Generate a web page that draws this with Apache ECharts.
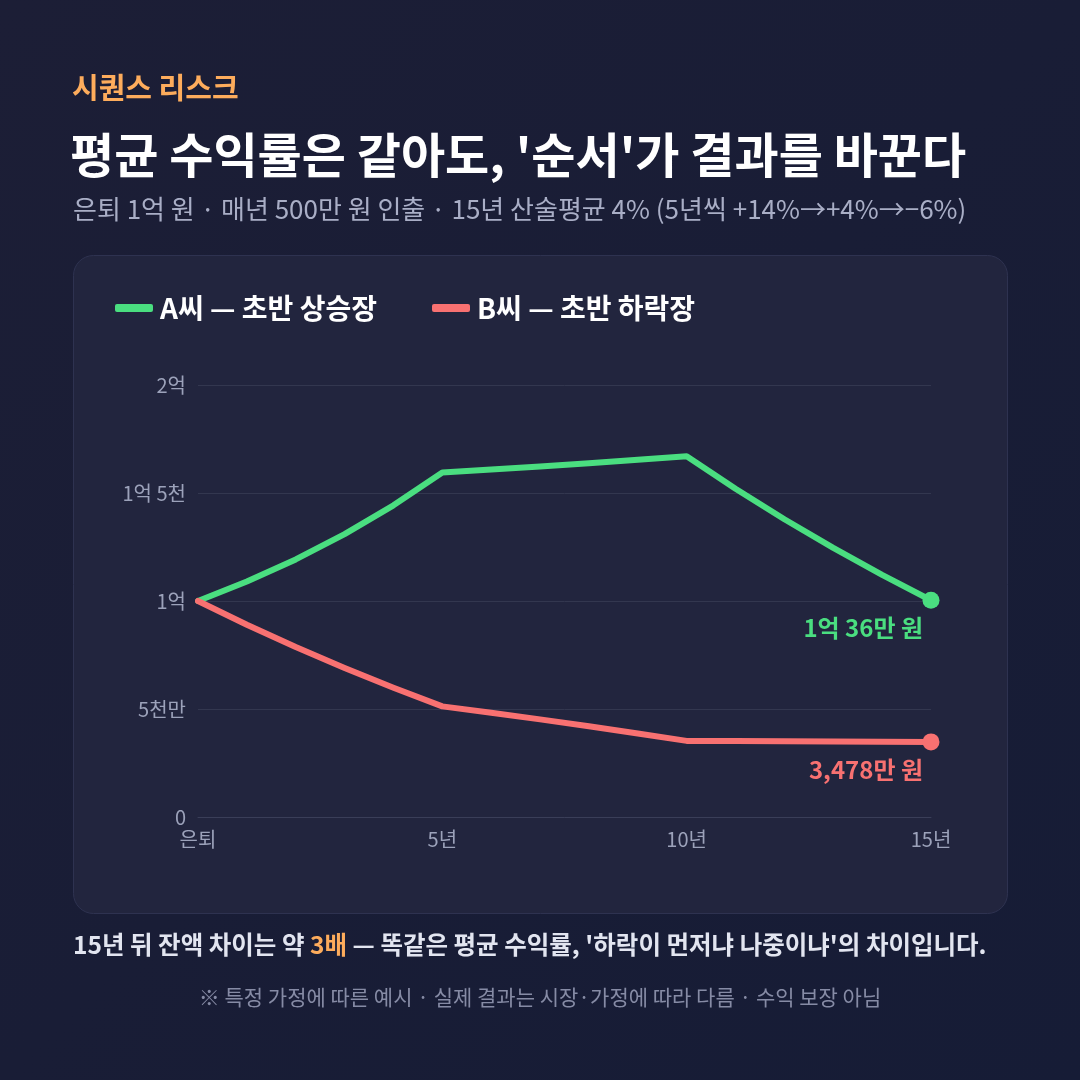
<!DOCTYPE html>
<html>
<head>
<meta charset="utf-8">
<script src="https://cdn.jsdelivr.net/npm/echarts@6/dist/echarts.min.js"></script>
<style>
  html, body { margin: 0; padding: 0; background: #1a1d36; }
  #chart { width: 1080px; height: 1080px; }
</style>
</head>
<body>
<div id="chart"></div>
<script>
// 단위: 만 원
var years = ['은퇴', '1년', '2년', '3년', '4년', '5년', '6년', '7년', '8년', '9년', '10년', '11년', '12년', '13년', '14년', '15년'];
var seriesA = [10000, 10900, 11926, 13096, 14429, 15949, 16087, 16231, 16380, 16535, 16697, 15195, 13783, 12456, 11208, 10036];
var seriesB = [10000, 8900, 7866, 6894, 5980, 5121, 4826, 4519, 4200, 3868, 3523, 3516, 3508, 3499, 3489, 3478];
var yTicks = {0: '0', 5000: '5천만', 10000: '1억', 15000: '1억 5천', 20000: '2억'};
var xShown = {'은퇴': '은퇴', '5년': '5년', '10년': '10년', '15년': '15년'};
var nameA = 'A씨 — 초반 상승장';
var nameB = 'B씨 — 초반 하락장';
var endA = '1억 36만 원';
var endB = '3,478만 원';

var FONT = '"Noto Sans CJK KR", "Noto Sans", sans-serif';
var GREEN = '#4ade80', RED = '#f87171', ORANGE = '#fdac5c';

function withEnd(arr, color, text) {
  return arr.map(function (v, i) {
    if (i < arr.length - 1) return v;
    return {
      value: v,
      symbol: 'circle',
      symbolSize: 17,
      label: {
        show: true, position: 'bottom', align: 'right', offset: [-8, 2],
        formatter: text, color: color, fontSize: 24, fontWeight: 'bold', fontFamily: FONT
      }
    };
  });
}

function txt(x, y, style) {
  style.x = x; style.y = y; style.verticalAlign = 'middle';
  return {type: 'text', style: style};
}

var myChart = echarts.init(document.getElementById('chart'));
myChart.setOption({
  backgroundColor: new echarts.graphic.LinearGradient(0, 0, 1, 1, [
    {offset: 0, color: '#1c1e36'}, {offset: 1, color: '#161c36'}
  ]),
  textStyle: {fontFamily: FONT},
  graphic: [
    {type: 'rect', left: 73, top: 255, shape: {width: 934, height: 658, r: 20},
      style: {fill: '#22253e', stroke: '#2e3250', lineWidth: 1}, z: -10},
    txt(72, 88, {text: '시퀀스 리스크', fill: ORANGE, font: 'bold 29px ' + FONT}),
    txt(70, 155, {text: "평균 수익률은 같아도, '순서'가 결과를 바꾼다", fill: '#ffffff', font: 'bold 48px ' + FONT}),
    txt(73, 209, {text: '은퇴 1억 원 · 매년 500만 원 인출 · 15년 산술평균 4% (5년씩 +14%→+4%→−6%)', fill: '#a9aec6', font: '26px ' + FONT}),
    txt(73, 945, {
      text: "{a|15년 뒤 잔액 차이는 약 }{b|3배}{a| — 똑같은 평균 수익률, '하락이 먼저냐 나중이냐'의 차이입니다.}",
      rich: {
        a: {fill: '#e2e5f0', font: 'bold 24.5px ' + FONT},
        b: {fill: ORANGE, font: 'bold 24.5px ' + FONT}
      }}),
    {type: 'text', left: 'center', top: 987, style: {text: '※ 특정 가정에 따른 예시 · 실제 결과는 시장·가정에 따라 다름 · 수익 보장 아님', fill: '#868ba5', font: '21px ' + FONT}}
  ],
  legend: {
    left: 110, top: 289, itemWidth: 38, itemHeight: 8, itemGap: 55,
    icon: 'roundRect',
    textStyle: {color: '#ffffff', fontSize: 28, fontWeight: 'bold', fontFamily: FONT, padding: [0, 0, 0, 2]},
    data: [nameA, nameB]
  },
  grid: {left: 198, right: 149, top: 385, bottom: 263, containLabel: false},
  xAxis: {
    type: 'category', data: years, boundaryGap: false,
    axisLine: {lineStyle: {color: '#3a3e58'}},
    axisTick: {show: false},
    axisLabel: {
      interval: 0, color: '#9ca2ba', fontSize: 20, margin: 12, fontFamily: FONT,
      formatter: function (v) { return xShown[v] || ''; }
    },
    splitLine: {show: false}
  },
  yAxis: {
    type: 'value', min: 0, max: 20000, interval: 5000,
    axisLine: {show: false}, axisTick: {show: false},
    axisLabel: {color: '#9ca2ba', fontSize: 20, margin: 12, fontFamily: FONT,
      formatter: function (v) { return yTicks[v]; }},
    splitLine: {lineStyle: {color: '#33374f', width: 1}}
  },
  series: [
    {name: nameA, type: 'line', data: withEnd(seriesA, GREEN, endA), symbol: 'none',
      lineStyle: {color: GREEN, width: 6, cap: 'round', join: 'round'},
      itemStyle: {color: GREEN}, z: 3},
    {name: nameB, type: 'line', data: withEnd(seriesB, RED, endB), symbol: 'none',
      lineStyle: {color: RED, width: 6, cap: 'round', join: 'round'},
      itemStyle: {color: RED}, z: 3}
  ]
});
</script>
</body>
</html>
